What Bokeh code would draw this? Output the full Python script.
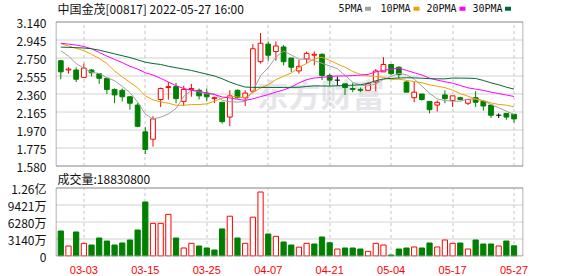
from bokeh.plotting import figure
from bokeh.models import Range1d, FixedTicker, ColumnDataSource
from bokeh.embed import file_html
from bokeh.resources import INLINE
from bokeh.core.properties import value

# ---------------- data ----------------
title_text = "中国金茂[00817] 2022-05-27 16:00"
vol_title = "成交量"

dates = ["02-28", "03-01", "03-02", "03-03", "03-04", "03-07", "03-08", "03-09", "03-10", "03-11",
         "03-14", "03-15", "03-16", "03-17", "03-18", "03-21", "03-22", "03-23", "03-24", "03-25",
         "03-28", "03-29", "03-30", "03-31", "04-01", "04-04", "04-06", "04-07", "04-08", "04-11",
         "04-12", "04-13", "04-14", "04-19", "04-20", "04-21", "04-22", "04-25", "04-26", "04-27",
         "04-28", "04-29", "05-03", "05-04", "05-05", "05-06", "05-10", "05-11", "05-12", "05-13",
         "05-16", "05-17", "05-18", "05-19", "05-20", "05-23", "05-24", "05-25", "05-26", "05-27"]

open_ = [2.72, 2.62, 2.62, 2.54, 2.62, 2.58, 2.53, 2.41, 2.40, 2.33,
         2.24, 1.95, 1.87, 2.30, 2.43, 2.44, 2.28, 2.41, 2.40, 2.37,
         2.31, 2.27, 2.11, 2.40, 2.32, 2.39, 2.71, 2.90, 2.82, 2.87,
         2.75, 2.61, 2.74, 2.78, 2.79, 2.56, 2.51, 2.47, 2.42, 2.41,
         2.40, 2.49, 2.60, 2.68, 2.65, 2.49, 2.32, 2.36, 2.28, 2.24,
         2.35, 2.29, 2.32, 2.26, 2.32, 2.28, 2.24, 2.13, 2.15, 2.14]
high = [2.73, 2.65, 2.65, 2.69, 2.63, 2.58, 2.53, 2.42, 2.42, 2.34,
        2.26, 2.00, 2.12, 2.43, 2.49, 2.48, 2.45, 2.47, 2.42, 2.42,
        2.33, 2.27, 2.40, 2.41, 2.40, 2.90, 3.02, 2.93, 2.93, 2.89,
        2.75, 2.73, 2.82, 2.82, 2.80, 2.58, 2.55, 2.47, 2.48, 2.43,
        2.49, 2.63, 2.76, 2.68, 2.66, 2.50, 2.49, 2.36, 2.28, 2.29,
        2.40, 2.34, 2.33, 2.30, 2.39, 2.28, 2.24, 2.15, 2.15, 2.14]
low = [2.52, 2.58, 2.49, 2.54, 2.55, 2.47, 2.36, 2.26, 2.28, 2.19,
       2.00, 1.71, 1.79, 2.22, 2.30, 2.26, 2.23, 2.33, 2.30, 2.28,
       2.26, 2.04, 2.01, 2.31, 2.23, 2.37, 2.69, 2.72, 2.72, 2.67,
       2.60, 2.58, 2.69, 2.67, 2.51, 2.45, 2.45, 2.35, 2.38, 2.38,
       2.40, 2.39, 2.60, 2.57, 2.53, 2.38, 2.27, 2.29, 2.15, 2.17,
       2.26, 2.22, 2.29, 2.24, 2.22, 2.18, 2.10, 2.10, 2.08, 2.05]
close = [2.60, 2.63, 2.52, 2.64, 2.59, 2.53, 2.41, 2.35, 2.33, 2.26,
         2.01, 1.76, 2.09, 2.42, 2.44, 2.31, 2.41, 2.42, 2.34, 2.33,
         2.32, 2.06, 2.34, 2.32, 2.37, 2.85, 2.91, 2.78, 2.88, 2.71,
         2.65, 2.66, 2.80, 2.79, 2.56, 2.51, 2.51, 2.43, 2.41, 2.40,
         2.47, 2.61, 2.68, 2.58, 2.57, 2.38, 2.38, 2.30, 2.19, 2.27,
         2.31, 2.34, 2.30, 2.30, 2.27, 2.23, 2.13, 2.13, 2.11, 2.09]
prev_close_first = 2.81

ma5 = [2.83, 2.77, 2.69, 2.64, 2.596, 2.582, 2.538, 2.504, 2.442, 2.376,
       2.272, 2.142, 2.090, 2.108, 2.144, 2.204, 2.334, 2.400, 2.384, 2.362,
       2.362, 2.292, 2.276, 2.272, 2.280, 2.390, 2.558, 2.646, 2.758, 2.826,
       2.784, 2.736, 2.738, 2.722, 2.692, 2.664, 2.634, 2.562, 2.486, 2.456,
       2.448, 2.468, 2.518, 2.550, 2.584, 2.568, 2.522, 2.446, 2.368, 2.306,
       2.290, 2.282, 2.282, 2.304, 2.304, 2.288, 2.246, 2.212, 2.174, 2.138]
ma10 = [2.905, 2.88, 2.855, 2.83, 2.79, 2.745, 2.69, 2.61, 2.545, 2.486,
        2.427, 2.340, 2.297, 2.275, 2.260, 2.238, 2.238, 2.245, 2.246, 2.253,
        2.283, 2.313, 2.338, 2.328, 2.321, 2.376, 2.425, 2.461, 2.515, 2.553,
        2.587, 2.647, 2.692, 2.740, 2.759, 2.724, 2.685, 2.650, 2.604, 2.574,
        2.556, 2.551, 2.540, 2.518, 2.520, 2.508, 2.495, 2.482, 2.459, 2.445,
        2.429, 2.402, 2.364, 2.336, 2.305, 2.289, 2.264, 2.247, 2.239, 2.221]
ma20 = [2.91, 2.90, 2.89, 2.875, 2.85, 2.81, 2.77, 2.735, 2.70, 2.66,
        2.63, 2.59, 2.565, 2.53, 2.49, 2.45, 2.42, 2.40, 2.39, 2.370,
        2.355, 2.327, 2.318, 2.302, 2.291, 2.307, 2.332, 2.353, 2.381, 2.403,
        2.435, 2.480, 2.515, 2.534, 2.540, 2.550, 2.555, 2.556, 2.560, 2.564,
        2.572, 2.599, 2.616, 2.629, 2.640, 2.616, 2.590, 2.566, 2.532, 2.510,
        2.493, 2.477, 2.452, 2.427, 2.413, 2.399, 2.380, 2.365, 2.349, 2.333]
ma30 = [2.868, 2.865, 2.862, 2.858, 2.850, 2.835, 2.815, 2.795, 2.775, 2.755,
        2.73, 2.705, 2.69, 2.68, 2.66, 2.645, 2.63, 2.615, 2.595, 2.575,
        2.555, 2.525, 2.49, 2.46, 2.435, 2.432, 2.432, 2.431, 2.431, 2.431,
        2.432, 2.433, 2.442, 2.448, 2.447, 2.446, 2.449, 2.452, 2.455, 2.460,
        2.475, 2.504, 2.523, 2.529, 2.533, 2.536, 2.535, 2.531, 2.526, 2.524,
        2.524, 2.533, 2.532, 2.531, 2.528, 2.507, 2.481, 2.460, 2.434, 2.413]

# volume in 万 (10^4 shares)
volume_wan = [4619, 1847, 4434, 2340, 2032, 3325, 2771, 2032, 2402, 2956,
              4803, 9976, 6035, 6035, 7698, 3325, 1478, 2340, 1847, 1478,
              1108, 5000, 7350, 3325, 2340, 7170, 11823, 4064, 3633, 2586,
              2032, 1630, 2340, 2217, 3510, 2450, 1293, 1478, 1478, 1293,
              862, 2340, 2032, 185, 1293, 1478, 1663, 1478, 2402, 1663,
              2956, 2340, 2402, 1293, 2956, 2217, 2217, 1847, 2771, 1883.08]

price_ticks = [1.580, 1.775, 1.970, 2.165, 2.360, 2.555, 2.750, 2.945, 3.140]
vol_ticks = [0, 31405000, 62810000, 94215000, 125620000]
vol_tick_labels = ["0", "3140万", "6280万", "9421万", "1.26亿"]
x_tick_labels = ["03-03", "03-15", "03-25", "04-07", "04-21", "05-04", "05-17", "05-27"]
ma_names = ["5PMA", "10PMA", "20PMA", "30PMA"]

# ---------------- style / geometry ----------------
RED = "#ff0000"
GREEN = "#008000"
BLACK = "#000000"
MA_COLORS = ["#a0a0a0", "#f0a000", "#ff00ff", "#006a36"]
GRID = "#d2d2d2"
VGRID = "#c4c4c4"
BORDER = "#999999"
CJK = "Noto Sans CJK SC"
W, H = 578, 276
FRAME_BOTTOM = 256
XMIN, XMAX = -0.56, 60.1          # candle-index range spanning the boxes
PPU = (522 - 56) / (XMAX - XMIN)  # px per candle slot

idx = list(range(len(dates)))
volume = [v * 1e4 for v in volume_wan]
tick_idx = [dates.index(d) for d in x_tick_labels]
PMIN, PMAX = price_ticks[0], price_ticks[-1]
VMAX = vol_ticks[-1]
PPX = (PMAX - PMIN) / 144.0       # price per px (price box 21.5 .. 165.5)
VPX = VMAX / 68.0                 # volume per px (volume box 187.5 .. 255.5)


def xpx(px):
    return XMIN + (px - 56) / PPU


def y1px(py):
    return PMAX - (py - 21.5) * PPX


def y2px(py):
    return VMAX - (py - 187.5) * VPX


def snap(i):
    px = 56 + (i - XMIN) * PPU
    return xpx(int(px) + 0.5)


# candle colours
c_col, c_fill = [], []
for i in idx:
    if close[i] > open_[i]:
        c_col.append(RED); c_fill.append("#ffffff")
    elif close[i] < open_[i]:
        c_col.append(GREEN); c_fill.append(GREEN)
    else:
        c_col.append(BLACK); c_fill.append(BLACK)

# volume colours (vs previous close)
v_col, v_fill = [], []
for i in idx:
    pc = prev_close_first if i == 0 else close[i - 1]
    if close[i] >= pc:
        v_col.append(RED); v_fill.append("#ffffff")
    else:
        v_col.append(GREEN); v_fill.append(GREEN)

# ---------------- figure ----------------
p = figure(width=W, height=H,
           x_range=Range1d(xpx(55), xpx(523)),
           y_range=Range1d(y1px(FRAME_BOTTOM), y1px(0)),
           output_backend="svg", toolbar_location=None, title=None,
           min_border_left=55, min_border_right=W - 523, min_border_top=0,
           min_border_bottom=H - FRAME_BOTTOM)
p.extra_y_ranges = {"vol": Range1d(y2px(FRAME_BOTTOM), y2px(0))}
p.outline_line_color = None
p.background_fill_color = "#ffffff"
for g in p.grid:
    g.visible = False

# left axis: price ticks in the upper box, volume ticks in the lower box
vol_tick_pos = [y1px(187.5 + (VMAX - v) / VPX) for v in vol_ticks]
ay = p.yaxis[0]
ay.ticker = FixedTicker(ticks=price_ticks + vol_tick_pos)
overrides = {t: f"{t:.3f}" for t in price_ticks}
overrides.update({t: s for t, s in zip(vol_tick_pos, vol_tick_labels)})
ay.major_label_overrides = overrides
ay.major_tick_line_color = None
ay.minor_tick_line_color = None
ay.axis_line_color = None
ay.major_label_text_font = CJK
ay.major_label_text_font_size = "12px"
ay.major_label_text_color = "#111111"
ay.major_label_standoff = 3

ax = p.xaxis[0]
ax.ticker = FixedTicker(ticks=tick_idx)
ax.major_label_overrides = {i: d for i, d in zip(tick_idx, x_tick_labels)}
ax.major_tick_line_color = None
ax.minor_tick_line_color = None
ax.axis_line_color = None
ax.major_label_text_font = "Liberation Sans"
ax.major_label_text_font_size = "11px"
ax.major_label_text_color = RED
ax.major_label_standoff = 3

# watermark
p.text(x=[xpx(256)], y=[y1px(92)], text=["东方财富"], text_font=value(CJK),
       text_font_size="32px", text_font_style="bold", text_color="#e6e6ea",
       text_baseline="middle", text_align="left")

# ---- price box grid ----
p.segment(x0=[xpx(55.5)] * len(price_ticks), y0=price_ticks,
          x1=[xpx(522.5)] * len(price_ticks), y1=price_ticks, line_color=GRID, line_width=1)
p.segment(x0=[snap(i) for i in tick_idx], y0=[PMIN] * len(tick_idx),
          x1=[snap(i) for i in tick_idx], y1=[PMAX] * len(tick_idx),
          line_color=VGRID, line_width=1, line_dash="3 3")

# ---- candles ----
src = ColumnDataSource(dict(x=idx, h=high, l=low, col=c_col))
p.segment(x0="x", y0="h", x1="x", y1="l", color="col", line_width=1, source=src)
body_i = [i for i in idx if close[i] != open_[i]]
doji_i = [i for i in idx if close[i] == open_[i]]
p.vbar(x=body_i, width=0.62,
       top=[max(open_[i], close[i]) for i in body_i],
       bottom=[min(open_[i], close[i]) for i in body_i],
       fill_color=[c_fill[i] for i in body_i], line_color=[c_col[i] for i in body_i], line_width=1)
p.segment(x0=[i - 0.34 for i in doji_i], y0=[close[i] for i in doji_i],
          x1=[i + 0.34 for i in doji_i], y1=[close[i] for i in doji_i],
          color=[c_col[i] for i in doji_i], line_width=1)

for ma, colr in zip([ma5, ma10, ma20, ma30], MA_COLORS):
    p.line(idx, ma, line_color=colr, line_width=1)

p.quad(left=[xpx(55.5)], right=[xpx(522.5)], bottom=[PMIN], top=[PMAX],
       fill_color=None, line_color=BORDER, line_width=1)

# title and MA legend
p.text(x=[xpx(57)], y=[y1px(8)], text=[title_text], text_font=value(CJK),
       text_font_size="12px", text_color="#111111", text_baseline="middle", text_align="left")
leg_text_px = [338, 380, 426, 472]
leg_mark_px = [364.5, 413, 459, 504.5]
p.text(x=[xpx(v) for v in leg_text_px], y=[y1px(8.3)] * 4, text=ma_names,
       text_font=value("DejaVu Sans Mono"), text_font_size="10px", text_color="#111111",
       text_baseline="middle", text_align="left")
p.quad(left=[xpx(v) for v in leg_mark_px], right=[xpx(v + 6) for v in leg_mark_px],
       top=[y1px(6.3)] * 4, bottom=[y1px(10.3)] * 4, fill_color=MA_COLORS, line_color=None)

# ---- volume box ----
p.segment(x0=[xpx(55.5)] * len(vol_ticks), y0=vol_ticks,
          x1=[xpx(522.5)] * len(vol_ticks), y1=vol_ticks, line_color=GRID, line_width=1,
          y_range_name="vol")
p.segment(x0=[snap(i) for i in tick_idx], y0=[0] * len(tick_idx),
          x1=[snap(i) for i in tick_idx], y1=[VMAX] * len(tick_idx),
          line_color=VGRID, line_width=1, line_dash="3 3", y_range_name="vol")
p.vbar(x=idx, width=0.68, top=volume, bottom=0, fill_color=v_fill, line_color=v_col,
       line_width=1, y_range_name="vol")
p.quad(left=[xpx(55.5)], right=[xpx(522.5)], bottom=[0], top=[VMAX],
       fill_color=None, line_color=BORDER, line_width=1, y_range_name="vol")

p.text(x=[xpx(57)], y=[y2px(177.5)], text=[f"{vol_title}:{int(round(volume[-1]))}"],
       text_font=value(CJK), text_font_size="12px", text_color="#111111",
       text_baseline="middle", text_align="left", y_range_name="vol")

open("out.html", "w").write(file_html(p, INLINE))
